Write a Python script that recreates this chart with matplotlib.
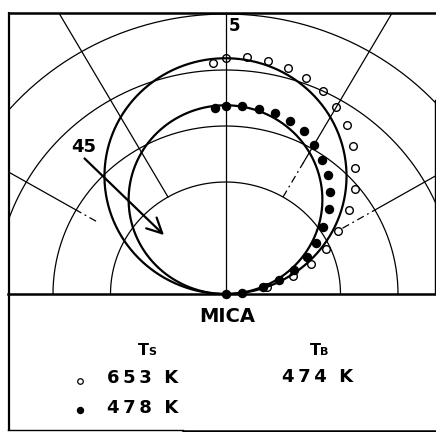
import numpy as np
import matplotlib
matplotlib.use("Agg")
import matplotlib.pyplot as plt
from matplotlib.patches import Rectangle

# Angular scan data: angle from surface normal (deg) and intensity (arb. units)
theta_653 = [-3, 0, 5, 10, 15, 20, 25, 30, 35, 40, 45, 50, 55, 60, 65, 70, 75, 80]
r_653 = [4.13, 4.21, 4.24, 4.23, 4.18, 4.11, 4.00, 3.86, 3.68, 3.44,
         3.19, 2.93, 2.62, 2.26, 1.92, 1.59, 1.21, 0.73]

theta_478 = [-3, 0, 5, 10, 15, 20, 25, 30, 35, 40, 45, 50, 55, 60, 65, 70, 75, 80, 85, 90]
r_478 = [3.33, 3.35, 3.37, 3.36, 3.34, 3.28, 3.21, 3.08, 2.93, 2.77,
         2.57, 2.35, 2.08, 1.82, 1.57, 1.26, 0.97, 0.67, 0.29, 0.0]

# cosine-law curves (diameters of the polar circles)
cos_diam = [4.21, 3.37]

grid_radii = [2, 3, 4, 5]
spoke_angles = [-60, -30, 0, 30, 60]

surface = "MICA"
ts_labels = ["653 K", "478 K"]
tb_label = "474 K"

# pixel layout helpers
W, H = 436, 432
X0, Y0, SX, SY = 225.5, 294.0, 57.5, 56.0


def ux(px):
    return (px - X0) / SX


def uy(py):
    return (Y0 - py) / SY


def polar_xy(theta_deg, r):
    t = np.radians(np.asarray(theta_deg, dtype=float))
    r = np.asarray(r, dtype=float)
    return r * np.sin(t), r * np.cos(t)


fig = plt.figure(figsize=(W / 100, H / 100), dpi=100)
ax = fig.add_axes([0, 0, 1, 1])
ax.set_xlim(ux(0), ux(W))
ax.set_ylim(uy(H), uy(0))
ax.axis("off")

clip = Rectangle((ux(8), uy(294)), ux(435) - ux(8), uy(12.5) - uy(294),
                 transform=ax.transData, fill=False, visible=False)
ax.add_patch(clip)

k = "black"
thin = 0.9

# polar grid rings
tt = np.linspace(-90, 90, 400)
for rr in grid_radii:
    x, y = polar_xy(tt, np.full_like(tt, rr))
    ln, = ax.plot(x, y, color=k, lw=thin)
    ln.set_clip_path(clip)

# radial spokes
spoke_style = {
    -60: (2.6, 3.0),
    -30: (2.0, 2.0),
    0: (0.0, 0.0),
    30: (2.0, 2.7),
    60: (2.35, 3.0),
}
for a in spoke_angles:
    r_start, r_solid = spoke_style[a]
    if r_solid > r_start:
        x, y = polar_xy([a, a], [r_start, r_solid])
        ax.plot(x, y, color=k, lw=thin, ls=(0, (6, 3, 1.5, 3)))
    x, y = polar_xy([a, a], [r_solid, 8])
    ln, = ax.plot(x, y, color=k, lw=thin)
    ln.set_clip_path(clip)

# cosine curves
for d in cos_diam:
    x, y = polar_xy(tt, d * np.cos(np.radians(tt)))
    ax.plot(x, y, color=k, lw=1.6)

# measured points
x, y = polar_xy(theta_653, r_653)
ax.plot(x, y, "o", ms=5.5, mfc="none", mec=k, mew=1.0, zorder=3)
x, y = polar_xy(theta_478, r_478)
ax.plot(x, y, "o", ms=5.8, mfc=k, mec=k, zorder=4)

# frame
ax.plot([ux(8), ux(436)], [uy(12.5), uy(12.5)], color=k, lw=1.8, solid_capstyle="butt")
ax.plot([ux(8.5), ux(8.5)], [uy(12), uy(431)], color=k, lw=1.6, solid_capstyle="butt")
ax.plot([ux(435), ux(435)], [uy(100), uy(294)], color=k, lw=1.0)
ax.plot([ux(8), ux(436)], [uy(294), uy(294)], color=k, lw=1.8)
ax.plot([ux(8), ux(183)], [uy(430), uy(430)], color=k, lw=1.0)
ax.plot([ux(183), ux(436)], [uy(431), uy(431)], color=k, lw=1.8)

bold = dict(family="DejaVu Sans", weight="bold", color=k)

# annotations in the plot
ax.text(ux(234.5), uy(26), "5", ha="center", va="center", fontsize=12, **bold)
ax.text(ux(83.5), uy(146.5), "45", ha="center", va="center", fontsize=13, **bold)
ax.annotate("", xy=(ux(166), uy(237)), xytext=(ux(82.5), uy(156.5)),
            arrowprops=dict(arrowstyle="->,head_length=0.9,head_width=0.45",
                            lw=1.6, color=k, mutation_scale=12))

# lower legend panel
ax.text(ux(227), uy(317), surface, ha="center", va="center", fontsize=14, **bold)

ax.text(ux(149), uy(355), "T", ha="right", va="baseline", fontsize=11.5, **bold)
ax.text(ux(148.5), uy(355), "S", ha="left", va="baseline", fontsize=8, **bold)
ax.text(ux(320.5), uy(355), "T", ha="right", va="baseline", fontsize=11.5, **bold)
ax.text(ux(320), uy(355), "B", ha="left", va="baseline", fontsize=8, **bold)

ax.plot([ux(80)], [uy(380.7)], "o", ms=4, mfc="none", mec=k, mew=0.9)
ax.plot([ux(80)], [uy(410)], "o", ms=4.3, mfc=k, mec=k)


def spaced(s):
    num, unit = s.split(" ")
    return "\u2009".join(num) + "  " + unit


ax.text(ux(107), uy(378.3), spaced(ts_labels[0]), ha="left", va="center", fontsize=13, **bold)
ax.text(ux(107), uy(408.3), spaced(ts_labels[1]), ha="left", va="center", fontsize=13, **bold)
ax.text(ux(282), uy(376.7), spaced(tb_label), ha="left", va="center", fontsize=13, **bold)

fig.savefig("out.png", dpi=100, facecolor="white")
